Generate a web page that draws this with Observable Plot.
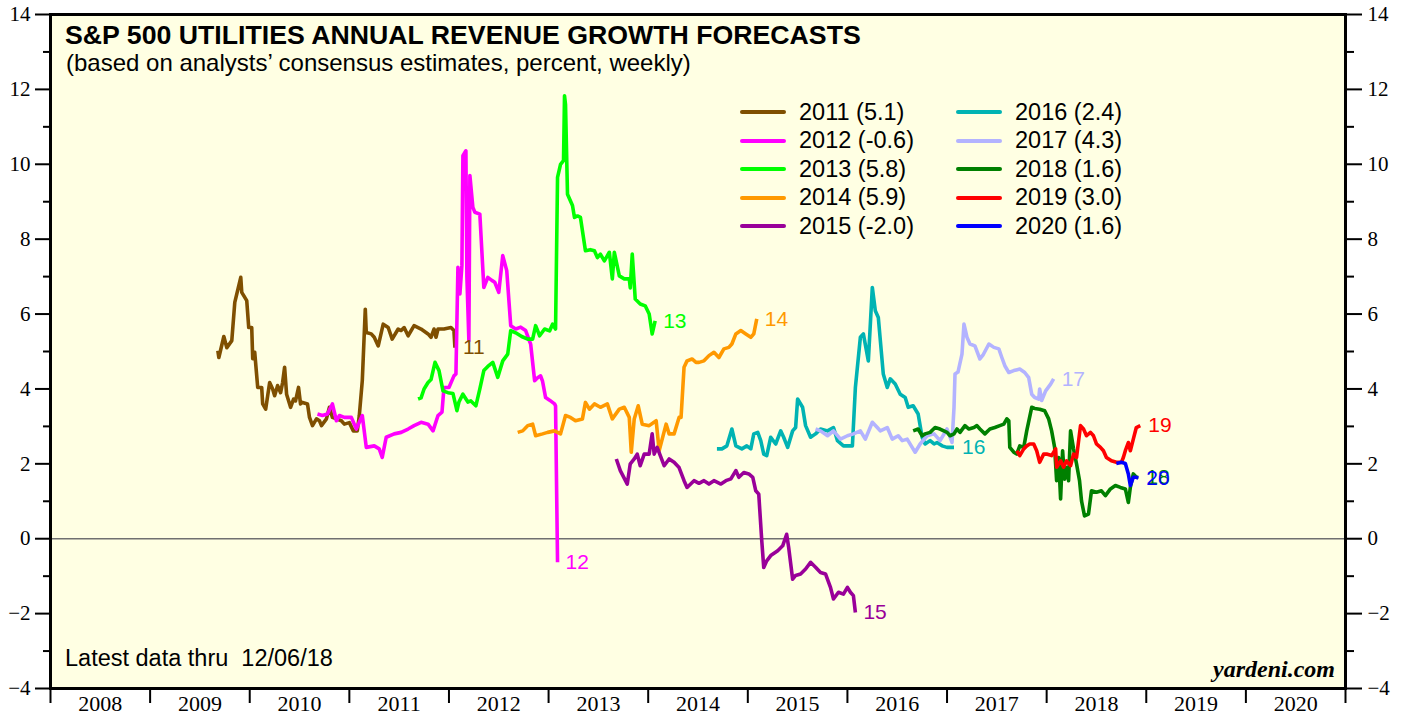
<!DOCTYPE html>
<html>
<head>
<meta charset="utf-8">
<script src="https://cdn.jsdelivr.net/npm/d3@7"></script>
<script src="https://cdn.jsdelivr.net/npm/@observablehq/plot@0.6"></script>
<style>
  html, body { margin: 0; padding: 0; background: #ffffff; }
  #wrap { position: relative; width: 1405px; height: 719px; overflow: hidden; }
  .ov { position: absolute; white-space: nowrap; font-family: "Liberation Sans", Arial, sans-serif; color: #000; line-height: 1; }
  #title { left: 65px; top: 22px; font-size: 26.7px; font-weight: bold; }
  #subtitle { left: 66px; top: 51px; font-size: 24px; }
  #latest { left: 65px; top: 647px; font-size: 23.5px; }
  #source { right: 70px; top: 657px; font-size: 24px; font-family: "Liberation Serif", "Times New Roman", serif; font-weight: bold; font-style: italic; }
  .legcol { position: absolute; top: 97.75px; font-family: "Liberation Sans", Arial, sans-serif; font-size: 23.5px; }
  .legrow { display: flex; align-items: center; height: 28.5px; }
  .sw { width: 46px; height: 4px; border-radius: 2px; margin-right: 13px; }
</style>
</head>
<body>
<div id="wrap"></div>
<script>
// ---- data (decimal year, percent) ----
const s2011 = [[2009.68,5.02],[2009.69,4.84],[2009.74,5.40],[2009.77,5.10],[2009.82,5.29],[2009.85,6.31],[2009.91,6.98],[2009.92,6.58],[2009.97,6.36],[2009.99,5.64],[2010.02,5.64],[2010.03,4.81],[2010.05,4.98],[2010.08,4.04],[2010.12,4.04],[2010.13,3.60],[2010.16,3.46],[2010.20,4.17],[2010.23,4.00],[2010.25,3.82],[2010.28,4.09],[2010.31,3.90],[2010.33,4.17],[2010.35,4.58],[2010.37,3.86],[2010.41,3.51],[2010.44,3.73],[2010.46,3.68],[2010.49,4.04],[2010.51,3.60],[2010.53,3.64],[2010.58,3.60],[2010.60,3.24],[2010.63,3.02],[2010.67,3.20],[2010.70,3.15],[2010.72,3.02],[2010.77,3.20],[2010.80,3.51],[2010.83,3.24],[2010.87,3.20],[2010.92,3.15],[2010.95,3.06],[2011.00,3.10],[2011.04,2.88],[2011.08,2.88],[2011.10,3.29],[2011.13,4.22],[2011.16,6.13],[2011.17,5.51],[2011.22,5.47],[2011.25,5.38],[2011.29,5.15],[2011.34,5.73],[2011.39,5.64],[2011.43,5.33],[2011.49,5.60],[2011.52,5.56],[2011.55,5.64],[2011.59,5.42],[2011.65,5.69],[2011.72,5.60],[2011.79,5.47],[2011.82,5.38],[2011.85,5.60],[2011.87,5.38],[2011.89,5.60],[2011.95,5.60],[2012.02,5.64],[2012.05,5.56],[2012.06,5.10]];
const s2012 = [[2010.68,3.33],[2010.73,3.29],[2010.78,3.33],[2010.83,3.60],[2010.87,3.15],[2010.90,3.29],[2010.95,3.24],[2011.02,3.24],[2011.07,2.93],[2011.13,3.29],[2011.17,2.44],[2011.25,2.48],[2011.30,2.40],[2011.33,2.17],[2011.37,2.71],[2011.45,2.80],[2011.52,2.84],[2011.59,2.93],[2011.65,3.02],[2011.72,3.11],[2011.79,3.06],[2011.84,2.88],[2011.89,3.29],[2011.93,3.38],[2011.95,4.04],[2012.00,4.04],[2012.05,4.35],[2012.07,4.40],[2012.09,7.25],[2012.11,6.54],[2012.13,7.30],[2012.14,10.23],[2012.17,10.36],[2012.18,7.00],[2012.20,5.29],[2012.21,9.70],[2012.24,8.85],[2012.26,8.72],[2012.31,8.67],[2012.35,6.71],[2012.39,6.98],[2012.43,6.90],[2012.46,6.85],[2012.50,6.58],[2012.54,7.56],[2012.58,7.16],[2012.62,5.69],[2012.67,5.60],[2012.72,5.65],[2012.77,5.56],[2012.82,5.20],[2012.86,4.22],[2012.89,4.30],[2012.92,4.35],[2012.94,4.20],[2012.97,3.77],[2013.01,3.70],[2013.06,3.60],[2013.07,3.55],[2013.09,-0.63]];
const s2013 = [[2011.69,3.73],[2011.72,3.76],[2011.75,4.00],[2011.79,4.17],[2011.82,4.25],[2011.86,4.71],[2011.90,4.49],[2011.94,3.95],[2011.99,3.90],[2012.04,3.88],[2012.08,3.42],[2012.10,3.65],[2012.14,3.86],[2012.19,3.65],[2012.22,3.68],[2012.27,3.55],[2012.31,4.00],[2012.35,4.49],[2012.39,4.60],[2012.44,4.71],[2012.49,4.31],[2012.54,4.75],[2012.59,4.93],[2012.62,5.56],[2012.67,5.50],[2012.73,5.40],[2012.79,5.33],[2012.84,5.33],[2012.87,5.69],[2012.91,5.42],[2012.96,5.60],[2013.01,5.55],[2013.04,5.73],[2013.07,5.60],[2013.09,9.65],[2013.12,10.00],[2013.15,10.10],[2013.16,11.83],[2013.17,11.60],[2013.19,9.20],[2013.24,8.90],[2013.26,8.58],[2013.29,8.62],[2013.32,8.58],[2013.37,7.69],[2013.42,7.72],[2013.46,7.69],[2013.49,7.51],[2013.52,7.60],[2013.56,7.42],[2013.61,7.65],[2013.64,6.94],[2013.66,7.65],[2013.71,7.02],[2013.76,6.94],[2013.81,6.94],[2013.82,6.70],[2013.84,7.60],[2013.87,6.40],[2013.92,6.27],[2013.97,6.22],[2014.01,6.00],[2014.04,5.47],[2014.07,5.82]];
const s2014 = [[2012.69,2.84],[2012.74,2.88],[2012.79,3.02],[2012.84,3.06],[2012.87,2.75],[2012.94,2.80],[2012.99,2.84],[2013.06,2.88],[2013.12,2.80],[2013.17,3.29],[2013.22,3.24],[2013.27,3.15],[2013.34,3.20],[2013.37,3.64],[2013.41,3.46],[2013.46,3.60],[2013.52,3.51],[2013.59,3.60],[2013.64,3.20],[2013.71,3.46],[2013.76,3.51],[2013.81,3.24],[2013.83,2.31],[2013.86,3.20],[2013.90,3.55],[2013.94,3.06],[2014.01,3.02],[2014.08,3.15],[2014.11,2.35],[2014.18,3.06],[2014.21,2.80],[2014.26,2.80],[2014.31,3.24],[2014.33,3.24],[2014.36,4.58],[2014.39,4.75],[2014.44,4.80],[2014.48,4.71],[2014.51,4.71],[2014.56,4.75],[2014.61,4.89],[2014.66,4.98],[2014.71,4.84],[2014.76,5.07],[2014.81,5.11],[2014.84,5.20],[2014.88,5.47],[2014.93,5.56],[2014.98,5.47],[2015.03,5.38],[2015.06,5.47],[2015.09,5.87]];
const s2015 = [[2013.68,2.13],[2013.72,1.82],[2013.79,1.46],[2013.82,2.00],[2013.86,2.13],[2013.89,2.26],[2013.92,1.95],[2013.96,2.26],[2014.01,2.26],[2014.04,2.80],[2014.06,2.26],[2014.09,2.44],[2014.16,1.95],[2014.21,2.13],[2014.26,2.04],[2014.31,1.90],[2014.36,1.55],[2014.39,1.37],[2014.46,1.55],[2014.51,1.48],[2014.56,1.55],[2014.61,1.46],[2014.66,1.55],[2014.73,1.46],[2014.78,1.55],[2014.83,1.60],[2014.88,1.82],[2014.91,1.64],[2014.96,1.77],[2015.01,1.73],[2015.05,1.64],[2015.08,1.28],[2015.11,1.19],[2015.14,-0.05],[2015.16,-0.77],[2015.19,-0.59],[2015.23,-0.45],[2015.30,-0.32],[2015.35,-0.19],[2015.39,0.12],[2015.41,-0.23],[2015.45,-1.08],[2015.48,-0.98],[2015.53,-0.94],[2015.58,-0.81],[2015.63,-0.63],[2015.68,-0.76],[2015.73,-0.90],[2015.78,-0.94],[2015.83,-1.30],[2015.86,-1.61],[2015.91,-1.43],[2015.96,-1.48],[2016.00,-1.30],[2016.03,-1.43],[2016.06,-1.52],[2016.08,-1.97]];
const s2016 = [[2014.69,2.40],[2014.74,2.40],[2014.79,2.48],[2014.84,2.93],[2014.88,2.48],[2014.94,2.40],[2014.99,2.48],[2015.03,2.40],[2015.06,2.80],[2015.10,2.84],[2015.13,2.62],[2015.16,2.26],[2015.19,2.22],[2015.23,2.71],[2015.28,2.53],[2015.33,2.88],[2015.36,2.71],[2015.40,2.44],[2015.45,2.88],[2015.48,2.97],[2015.50,3.73],[2015.55,3.51],[2015.58,3.02],[2015.63,2.71],[2015.68,2.80],[2015.73,2.93],[2015.80,2.88],[2015.86,2.97],[2015.90,2.62],[2015.96,2.48],[2016.05,2.48],[2016.08,4.04],[2016.13,5.38],[2016.16,5.47],[2016.21,4.75],[2016.25,6.71],[2016.28,6.09],[2016.31,5.91],[2016.36,4.40],[2016.40,4.04],[2016.43,4.27],[2016.48,4.13],[2016.53,3.86],[2016.58,3.77],[2016.61,3.51],[2016.66,3.55],[2016.71,3.33],[2016.75,2.71],[2016.78,2.53],[2016.83,2.62],[2016.87,2.53],[2016.90,2.57],[2016.95,2.48],[2017.00,2.44],[2017.07,2.44]];
const s2017 = [[2015.68,2.93],[2015.73,2.88],[2015.80,2.75],[2015.86,2.88],[2015.93,2.66],[2016.00,2.75],[2016.06,2.80],[2016.13,2.88],[2016.18,2.66],[2016.25,3.11],[2016.30,2.97],[2016.33,2.88],[2016.40,2.97],[2016.45,2.66],[2016.51,2.75],[2016.55,2.62],[2016.60,2.66],[2016.65,2.44],[2016.68,2.31],[2016.73,2.53],[2016.80,2.75],[2016.87,2.80],[2016.93,2.62],[2017.00,2.93],[2017.05,2.57],[2017.07,3.51],[2017.08,4.40],[2017.11,4.45],[2017.15,4.93],[2017.17,5.73],[2017.20,5.38],[2017.23,5.20],[2017.28,5.15],[2017.33,4.80],[2017.36,4.90],[2017.42,5.20],[2017.47,5.11],[2017.52,5.07],[2017.55,4.84],[2017.58,4.62],[2017.62,4.44],[2017.67,4.49],[2017.73,4.53],[2017.78,4.44],[2017.82,4.30],[2017.85,3.86],[2017.88,3.77],[2017.92,3.73],[2017.93,4.00],[2017.95,3.69],[2017.99,3.95],[2018.04,4.13],[2018.07,4.27]];
const s2018 = [[2016.66,2.88],[2016.71,2.93],[2016.75,2.75],[2016.78,2.80],[2016.83,2.84],[2016.88,2.97],[2016.93,2.93],[2017.00,2.84],[2017.03,2.75],[2017.07,2.80],[2017.10,2.93],[2017.13,2.84],[2017.18,3.02],[2017.22,2.93],[2017.27,2.97],[2017.30,3.02],[2017.33,2.93],[2017.38,2.80],[2017.43,2.93],[2017.48,2.97],[2017.53,3.02],[2017.57,3.06],[2017.60,3.20],[2017.62,3.15],[2017.63,2.44],[2017.67,2.31],[2017.70,2.26],[2017.73,2.48],[2017.77,2.44],[2017.80,2.88],[2017.85,3.51],[2017.88,3.48],[2017.93,3.46],[2017.98,3.42],[2018.02,3.20],[2018.05,2.88],[2018.08,2.44],[2018.10,1.55],[2018.12,2.17],[2018.14,1.06],[2018.16,2.35],[2018.18,1.59],[2018.20,1.90],[2018.22,1.55],[2018.24,2.88],[2018.27,2.40],[2018.30,2.00],[2018.33,1.55],[2018.35,1.01],[2018.38,0.61],[2018.42,0.66],[2018.45,1.28],[2018.50,1.24],[2018.55,1.28],[2018.59,1.15],[2018.64,1.33],[2018.69,1.42],[2018.74,1.37],[2018.79,1.33],[2018.82,0.97],[2018.84,1.37],[2018.87,1.73],[2018.90,1.64],[2018.92,1.64]];
const s2019 = [[2017.70,2.35],[2017.73,2.22],[2017.77,2.40],[2017.80,2.48],[2017.83,2.53],[2017.87,2.53],[2017.90,2.35],[2017.93,2.04],[2017.97,2.26],[2018.00,2.26],[2018.05,2.22],[2018.09,2.40],[2018.10,1.91],[2018.14,2.08],[2018.17,1.91],[2018.20,2.08],[2018.24,1.95],[2018.27,2.26],[2018.30,2.17],[2018.34,3.02],[2018.37,2.93],[2018.40,2.75],[2018.44,2.84],[2018.47,2.75],[2018.50,2.53],[2018.54,2.44],[2018.57,2.35],[2018.60,2.17],[2018.65,2.08],[2018.70,2.04],[2018.75,2.04],[2018.77,2.17],[2018.79,2.35],[2018.82,2.57],[2018.84,2.35],[2018.87,2.66],[2018.90,2.97],[2018.94,3.02]];
const s2020 = [[2018.70,2.01],[2018.75,2.04],[2018.79,2.01],[2018.82,1.73],[2018.84,1.42],[2018.87,1.64],[2018.90,1.64],[2018.92,1.62]];

const seriesNames  = ["2011","2012","2013","2014","2015","2016","2017","2018","2019","2020"];
const seriesShort  = ["11","12","13","14","15","16","17","18","19","20"];
const seriesLatest = ["5.1","-0.6","5.8","5.9","-2.0","2.4","4.3","1.6","3.0","1.6"];
const seriesColors = ["#7f4f00","#ff00ff","#00ff00","#ff9900","#990099","#00b3b3","#b3b3ff","#008000","#ff0000","#0000ff"];
const seriesData   = [s2011,s2012,s2013,s2014,s2015,s2016,s2017,s2018,s2019,s2020];

const yTicks = [-4,-2,0,2,4,6,8,10,12,14];
const yMinor = [-3,-1,1,3,5,7,9,11,13];
const xBounds = [2008,2009,2010,2011,2012,2013,2014,2015,2016,2017,2018,2019,2020,2021];
const xYears = [2008,2009,2010,2011,2012,2013,2014,2015,2016,2017,2018,2019,2020];

const titleText = "S&P 500 UTILITIES ANNUAL REVENUE GROWTH FORECASTS";
const subtitleText = "(based on analysts\u2019 consensus estimates, percent, weekly)";
const latestText = "Latest data thru\u00a0 12/06/18";
const sourceText = "yardeni.com";

// ---- build tables ----
const rows = seriesData.flatMap((d, i) => d.map(([x, y]) => ({series: seriesNames[i], x, y})));
const ends = seriesData.map((d, i) => ({series: seriesNames[i], short: seriesShort[i], x: d[d.length-1][0], y: d[d.length-1][1]}));
const yearMids = xYears.map(y => ({pos: y + 0.5, label: String(y)}));

const chart = Plot.plot({
  width: 1405,
  height: 719,
  marginLeft: 50,
  marginRight: 60,
  marginTop: 14,
  marginBottom: 31,
  x: {domain: [2008, 2021], label: null},
  y: {domain: [-4, 14], label: null},
  color: {domain: seriesNames, range: seriesColors},
  style: {fontFamily: "'Liberation Serif', 'Times New Roman', serif", fontSize: "21px", background: "#ffffff", color: "#000", overflow: "visible"},
  marks: [
    Plot.frame({fill: "#ffffe3"}),
    Plot.ruleY([0], {stroke: "#707070", strokeWidth: 1.5}),
    Plot.line(rows, {x: "x", y: "y", z: "series", stroke: "series", strokeWidth: 3.6, strokeLinejoin: "round", strokeLinecap: "butt"}),
    Plot.text(ends, {x: "x", y: "y", text: "short", fill: "series", dx: 8, textAnchor: "start", fontFamily: "'Liberation Sans', Arial, sans-serif", fontSize: 21}),
    Plot.axisY(yTicks, {anchor: "left", tickSize: 15, tickPadding: 5, strokeWidth: 2, label: null}),
    Plot.axisY(yMinor, {anchor: "left", tickSize: 7, tickFormat: () => "", strokeWidth: 2, label: null}),
    Plot.axisY(yTicks, {anchor: "right", tickSize: 16, tickPadding: 6, strokeWidth: 2, label: null}),
    Plot.axisY(yMinor, {anchor: "right", tickSize: 8, tickFormat: () => "", strokeWidth: 2, label: null}),
    Plot.axisX(xBounds, {anchor: "bottom", tickSize: 15, tickFormat: () => "", strokeWidth: 2, label: null}),
    Plot.text(yearMids, {x: "pos", frameAnchor: "bottom", text: "label", dy: 22, fontSize: 22}),
    Plot.frame({stroke: "#000", strokeWidth: 3})
  ]
});

const wrap = document.getElementById("wrap");
wrap.appendChild(chart);

function addDiv(id, text) {
  const el = document.createElement("div");
  el.className = "ov"; el.id = id; el.textContent = text;
  wrap.appendChild(el);
}
addDiv("title", titleText);
addDiv("subtitle", subtitleText);
addDiv("latest", latestText);
addDiv("source", sourceText);

// legend: two columns of five
const colLefts = [740, 956];
for (let c = 0; c < 2; c++) {
  const col = document.createElement("div");
  col.className = "legcol";
  col.style.left = colLefts[c] + "px";
  for (let r = 0; r < 5; r++) {
    const i = c * 5 + r;
    const row = document.createElement("div");
    row.className = "legrow";
    const sw = document.createElement("div");
    sw.className = "sw";
    sw.style.background = seriesColors[i];
    const tx = document.createElement("span");
    tx.textContent = `${seriesNames[i]} (${seriesLatest[i]})`;
    row.appendChild(sw); row.appendChild(tx);
    col.appendChild(row);
  }
  wrap.appendChild(col);
}
</script>
</body>
</html>
